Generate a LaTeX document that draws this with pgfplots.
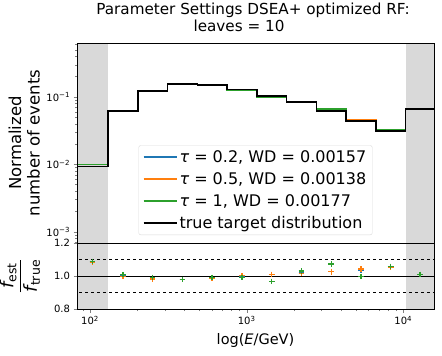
\documentclass[border=0pt]{standalone}
\usepackage{fontspec}
\setmainfont{DejaVu Sans}
\usepackage{amsmath}
\usepackage{pgfplots}
\pgfplotsset{compat=1.18}
\definecolor{tabblue}{HTML}{1F77B4}
\definecolor{taborange}{HTML}{FF7F0E}
\definecolor{tabgreen}{HTML}{2CA02C}
\definecolor{spangray}{gray}{0.85}
\begin{document}
\begin{tikzpicture}
\useasboundingbox (-77pt,43pt) rectangle (365pt,-313pt);
\begin{axis}[name=top, at={(0pt,0pt)}, anchor=north west,
  scale only axis, width=357pt, height=200pt,
  xmode=log, xmin=82.6, xmax=15703,
  ymode=log, ymin=6.8e-4, ymax=0.63,
  tick pos=left, tick align=outside,
  major tick length=3.5pt, minor tick length=2pt,
  axis line style={line width=0.8pt},
  ticklabel style={font=\fontsize{10}{12}\selectfont},
  axis on top,
  xtick=\empty,
  ytick={1e-3,1e-2,1e-1},
  yticklabels={10\textsuperscript{−3},10\textsuperscript{−2},10\textsuperscript{−1}},
  minor ytick={7e-4,8e-4,9e-4,2e-3,3e-3,4e-3,5e-3,6e-3,7e-3,8e-3,9e-3,2e-2,3e-2,4e-2,5e-2,6e-2,7e-2,8e-2,9e-2,2e-1,3e-1,4e-1,5e-1,6e-1},
  ylabel={Normalized\\number of events},
  ylabel style={at={(axis description cs:-0.148,0.5)}, anchor=center, align=center, font=\fontsize{16.5}{18.5}\selectfont},
  title={Parameter Settings DSEA+ optimized RF:\\leaves = 10\hspace*{28pt}},
  title style={at={(axis description cs:0.493,1.0975)}, anchor=center, align=center, font=\fontsize{15.2}{17.5}\selectfont},
  legend style={at={(0.5,0.04)}, anchor=south, font=\fontsize{16}{18}\selectfont,
    draw=black!15, rounded corners=2pt, fill=white, fill opacity=0.8, text opacity=1,
    row sep=4.5pt, inner xsep=4pt, inner ysep=3pt},
  legend cell align=left,
  legend image code/.code={\draw[#1] (0pt,0pt) -- (33pt,0pt);},
]
\addplot[fill=spangray, draw=none, forget plot] coordinates {(60,1e-4)(130.3,1e-4)(130.3,10)(60,10)};
\addplot[fill=spangray, draw=none, forget plot] coordinates {(10351.4,1e-4)(25000,1e-4)(25000,10)(10351.4,10)};
\addplot[const plot, tabblue, line width=1.5pt, forget plot] coordinates {
(60,0.00998)(130.3,0.0621)(201.8,0.1209)(312.6,0.1526)(484.2,0.1486)(749.9,0.1280)(1161.4,0.1034)(1798.9,0.0849)(2786.1,0.0630)(4315.2,0.0451)(6683.4,0.0327)(10351.4,0.0663)(25000,0.0663)};
\addplot[const plot, taborange, line width=1.5pt, forget plot] coordinates {
(60,0.00995)(130.3,0.0620)(201.8,0.1205)(312.6,0.1526)(484.2,0.1483)(749.9,0.1283)(1161.4,0.1032)(1798.9,0.0846)(2786.1,0.0630)(4315.2,0.0454)(6683.4,0.0327)(10351.4,0.0663)(25000,0.0663)};
\addplot[const plot, tabgreen, line width=1.5pt, forget plot] coordinates {
(60,0.01001)(130.3,0.0626)(201.8,0.1217)(312.6,0.1526)(484.2,0.1495)(749.9,0.1267)(1161.4,0.0990)(1798.9,0.0859)(2786.1,0.0659)(4315.2,0.0435)(6683.4,0.0328)(10351.4,0.0663)(25000,0.0663)};
\addplot[const plot, black, line width=1.5pt, forget plot] coordinates {
(60,0.0092)(130.3,0.0621)(201.8,0.1227)(312.6,0.156)(484.2,0.1507)(749.9,0.128)(1161.4,0.1024)(1798.9,0.0834)(2786.1,0.0614)(4315.2,0.0436)(6683.4,0.031)(10351.4,0.0658)(25000,0.0658)};
\addlegendimage{tabblue, line width=1.8pt}
\addlegendentry{{\itshape τ} = 0.2, WD = 0.00157}
\addlegendimage{taborange, line width=1.8pt}
\addlegendentry{{\itshape τ} = 0.5, WD = 0.00138}
\addlegendimage{tabgreen, line width=1.8pt}
\addlegendentry{{\itshape τ} = 1, WD = 0.00177}
\addlegendimage{black, line width=1.8pt}
\addlegendentry{true target distribution}
\end{axis}
\begin{axis}[name=bot, at={(top.south west)}, anchor=north west,
  scale only axis, width=357pt, height=66pt,
  xmode=log, xmin=82.6, xmax=15703,
  ymin=0.8, ymax=1.2,
  tick pos=left, tick align=outside,
  major tick length=3.5pt, minor tick length=2pt,
  axis line style={line width=0.8pt},
  ticklabel style={font=\fontsize{10}{12}\selectfont},
  axis on top,
  ytick={0.8,1.0,1.2}, yticklabels={0.8,1.0,1.2},
  xtick={100,1000,10000},
  xticklabels={10\textsuperscript{2},10\textsuperscript{3},10\textsuperscript{4}},
  minor xtick={90,200,300,400,500,600,700,800,900,2000,3000,4000,5000,6000,7000,8000,9000},
  xlabel={log({\itshape E}/GeV)},
  xlabel style={at={(axis description cs:0.5,-0.47)}, anchor=center, font=\fontsize{14.5}{17}\selectfont},
  ylabel={$\displaystyle\frac{\mbox{\itshape f}_{\mbox{\fontsize{12.5}{14}\selectfont est}}}{\mbox{\itshape f}_{\mbox{\fontsize{12.5}{14}\selectfont true}}}$},
  ylabel style={at={(axis description cs:-0.16,0.5)}, anchor=center, font=\fontsize{18}{20}\selectfont},
]
\addplot[fill=spangray, draw=none] coordinates {(60,0.5)(130.3,0.5)(130.3,1.5)(60,1.5)};
\addplot[fill=spangray, draw=none] coordinates {(10351.4,0.5)(25000,0.5)(25000,1.5)(10351.4,1.5)};
\addplot[black, line width=0.8pt, dashed] coordinates {(60,1.1)(25000,1.1)};
\addplot[black, line width=0.8pt, dashed] coordinates {(60,0.9)(25000,0.9)};
\addplot[black, line width=0.8pt] coordinates {(60,1.0)(25000,1.0)};
\addplot[black, line width=0.8pt] coordinates {(60,1.2)(25000,1.2)};
\addplot[only marks, mark=+, mark size=2.8pt, tabblue, line width=1.4pt] coordinates {
(103.8,1.085)(162.2,1.000)(251.2,0.985)(389.0,0.978)(602.6,0.986)(933.3,1.000)(1445.4,1.010)(2238.7,1.018)(3467.4,1.026)(5370.3,1.035)(8317.6,1.056)(12764,1.008)};
\addplot[only marks, mark=+, mark size=2.8pt, taborange, line width=1.4pt] coordinates {
(103.8,1.082)(162.2,0.998)(251.2,0.982)(389.0,0.978)(602.6,0.984)(933.3,1.002)(1445.4,1.008)(2238.7,1.014)(3467.4,1.026)(5370.3,1.042)(8317.6,1.055)(12764,1.008)};
\addplot[only marks, mark=+, mark size=2.8pt, tabgreen, line width=1.4pt] coordinates {
(103.8,1.088)(162.2,1.008)(251.2,0.992)(389.0,0.978)(602.6,0.992)(933.3,0.990)(1445.4,0.967)(2238.7,1.030)(3467.4,1.073)(5370.3,0.998)(8317.6,1.058)(12764,1.008)};
\end{axis}
\end{tikzpicture}
\end{document}
